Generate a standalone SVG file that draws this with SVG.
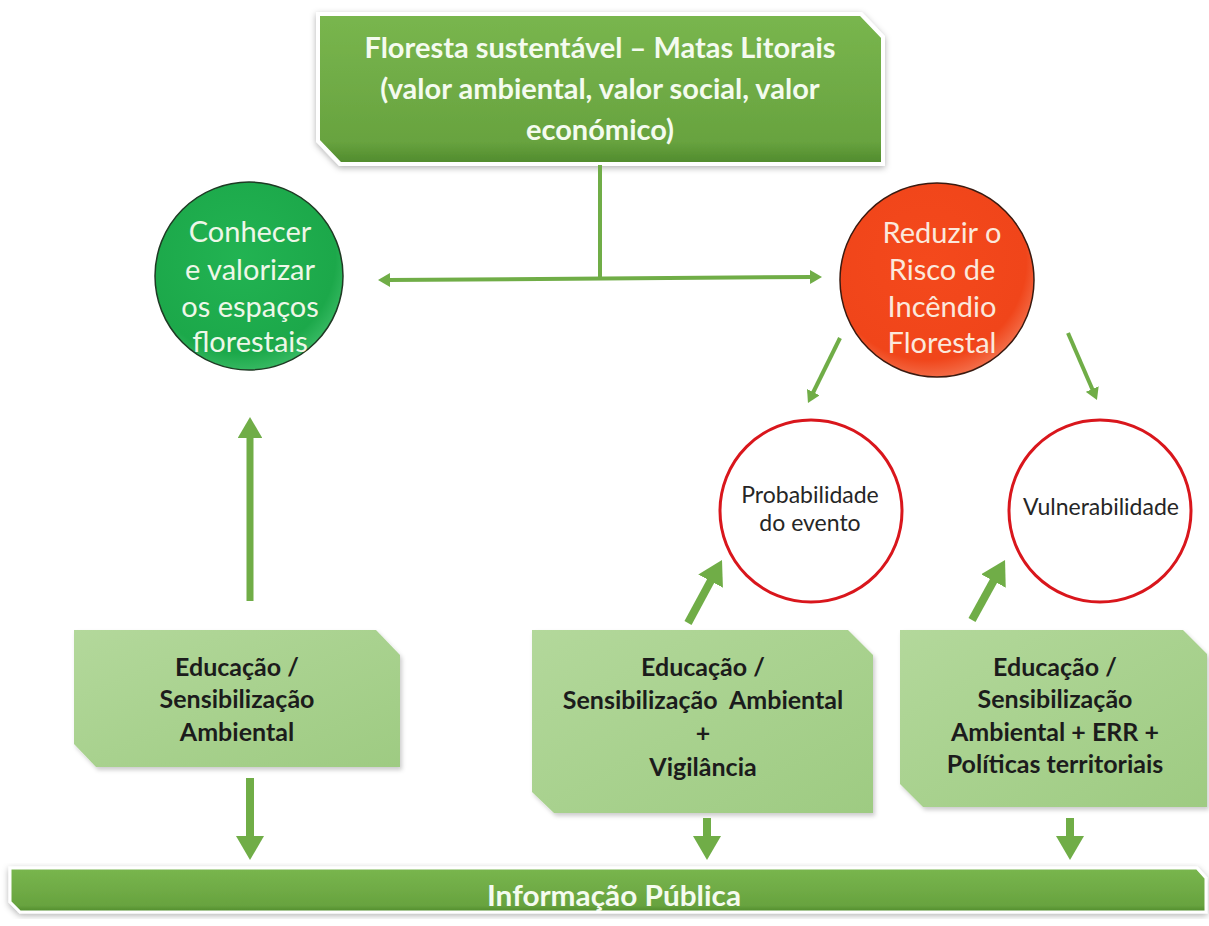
<svg xmlns="http://www.w3.org/2000/svg" width="1209" height="926" viewBox="0 0 1209 926">
<defs>
<linearGradient id="gDark" x1="0" y1="0" x2="0" y2="1">
<stop offset="0" stop-color="#79b64e"/><stop offset="0.85" stop-color="#68a33f"/><stop offset="1" stop-color="#4f8a2c"/>
</linearGradient>
<linearGradient id="gLight" x1="0" y1="0" x2="1" y2="1">
<stop offset="0" stop-color="#b3d89b"/><stop offset="1" stop-color="#9ecb82"/>
</linearGradient>
<radialGradient id="gGreen" cx="0.45" cy="0.4" r="0.6">
<stop offset="0" stop-color="#22b352"/><stop offset="0.85" stop-color="#1ca84a"/><stop offset="1" stop-color="#34b860"/>
</radialGradient>
<radialGradient id="gRed" cx="0.45" cy="0.4" r="0.6">
<stop offset="0" stop-color="#f4491c"/><stop offset="0.85" stop-color="#f0451a"/><stop offset="1" stop-color="#f36a45"/>
</radialGradient>
<filter id="sh" x="-5%" y="-10%" width="110%" height="125%">
<feDropShadow dx="0" dy="2" stdDeviation="3" flood-color="#000" flood-opacity="0.3"/>
</filter>
<filter id="sh2" x="-5%" y="-10%" width="110%" height="125%">
<feDropShadow dx="2" dy="3" stdDeviation="2" flood-color="#000" flood-opacity="0.2"/>
</filter>
<marker id="ah" viewBox="0 0 6 7" refX="1" refY="3.5" markerWidth="3" markerHeight="3.5" orient="auto-start-reverse" markerUnits="strokeWidth">
<path d="M0,0 L6,3.5 L0,7 Z" fill="#70ad47"/>
</marker>
</defs>
<style>
.conn line{stroke:#70ad47;fill:none}
.title{font-family:"Lato","Liberation Sans",sans-serif;font-weight:bold;fill:#f4fbef;text-anchor:middle}
.circ{font-family:"Lato","Liberation Sans",sans-serif;fill:#eef7e8;text-anchor:middle;font-size:29px}
.circR{font-family:"Lato","Liberation Sans",sans-serif;fill:#fbe8dc;text-anchor:middle;font-size:29px}
.small{font-family:"Lato","Liberation Sans",sans-serif;fill:#262626;text-anchor:middle;font-size:23px}
.box{font-family:"Lato","Liberation Sans",sans-serif;font-weight:bold;fill:#1c1c1c;text-anchor:middle;font-size:25px}
.lbox{fill:url(#gLight);filter:url(#sh2)}
.rc{fill:#fff;stroke:#d9161c;stroke-width:3}
</style>
<rect width="1209" height="926" fill="#fff"/>

<g id="top">
<path d="M318,14 L861,14 L883,37 L883,164 L340,164 L318,141 Z" fill="url(#gDark)" stroke="#ffffff" stroke-width="4" filter="url(#sh)"/>
<text class="title" font-size="29" x="600" y="58">Floresta sustentável – Matas Litorais</text>
<text class="title" font-size="29" x="600" y="99">(valor ambiental, valor social, valor</text>
<text class="title" font-size="29" x="600" y="140">económico)</text>
</g>

<g id="conhecer">
<circle cx="249" cy="276" r="94" fill="url(#gGreen)" stroke="#1f3a24" stroke-width="1.5"/>
<text class="circ" x="250" y="242">Conhecer</text>
<text class="circ" x="250" y="280">e valorizar</text>
<text class="circ" x="250" y="317">os espaços</text>
<text class="circ" x="250" y="352">florestais</text>
</g>

<g id="reduzir">
<circle cx="937" cy="280" r="97" fill="url(#gRed)" stroke="#3a1a10" stroke-width="1.5"/>
<text class="circR" x="942" y="243">Reduzir o</text>
<text class="circR" x="942" y="280">Risco de</text>
<text class="circR" x="942" y="317">Incêndio</text>
<text class="circR" x="942" y="353">Florestal</text>
</g>

<g id="probabilidade">
<circle class="rc" cx="811" cy="511" r="91"/>
<text class="small" x="810" y="503">Probabilidade</text>
<text class="small" x="810" y="531">do evento</text>
</g>

<g id="vulnerabilidade">
<circle class="rc" cx="1100" cy="511" r="91"/>
<text class="small" x="1101" y="515">Vulnerabilidade</text>
</g>

<g id="edu1">
<path class="lbox" d="M74,630 L376,630 L400,655 L400,767 L96,767 L74,744 Z"/>
<text class="box" x="237" y="676">Educação /</text>
<text class="box" x="237" y="708">Sensibilização</text>
<text class="box" x="237" y="741">Ambiental</text>
</g>

<g id="edu2">
<path class="lbox" d="M532,630 L848,630 L873,655 L873,813 L554,813 L532,792 Z"/>
<text class="box" x="703" y="676">Educação /</text>
<text class="box" x="703" y="709" xml:space="preserve">Sensibilização  Ambiental</text>
<text class="box" x="703" y="742">+</text>
<text class="box" x="703" y="776">Vigilância</text>
</g>

<g id="edu3">
<path class="lbox" d="M900,630 L1183,630 L1207,654 L1207,807 L923,807 L900,784 Z"/>
<text class="box" x="1055" y="676">Educação /</text>
<text class="box" x="1055" y="708">Sensibilização</text>
<text class="box" x="1055" y="741">Ambiental + ERR +</text>
<text class="box" x="1055" y="773">Políticas territoriais</text>
</g>

<g id="info">
<path d="M10,868 L1197,868 L1206,878 L1206,912 L20,912 L10,902 Z" fill="url(#gDark)" stroke="#ffffff" stroke-width="3" filter="url(#sh)"/>
<text class="title" font-size="28" x="614" y="906" textLength="254" lengthAdjust="spacingAndGlyphs">Informação Pública</text>
</g>

<g id="connectors" class="conn">
<line x1="600" y1="165" x2="600" y2="279" stroke-width="4"/>
<line x1="388" y1="280" x2="812" y2="277" stroke-width="4" marker-start="url(#ah)" marker-end="url(#ah)"/>
<line x1="840" y1="338" x2="812.4" y2="394" stroke-width="4" marker-end="url(#ah)"/>
<line x1="1068" y1="333" x2="1093" y2="390.8" stroke-width="4" marker-end="url(#ah)"/>
<line x1="250" y1="601" x2="250" y2="434.5" stroke-width="7" marker-end="url(#ah)"/>
<line x1="688" y1="623" x2="712.5" y2="577.6" stroke-width="8" marker-end="url(#ah)"/>
<line x1="972" y1="620" x2="995.4" y2="577.5" stroke-width="8" marker-end="url(#ah)"/>
<line x1="250" y1="778" x2="250" y2="840" stroke-width="8" marker-end="url(#ah)"/>
<line x1="707" y1="818" x2="707" y2="840" stroke-width="8" marker-end="url(#ah)"/>
<line x1="1070" y1="818" x2="1070" y2="840" stroke-width="8" marker-end="url(#ah)"/>
</g>
</svg>
